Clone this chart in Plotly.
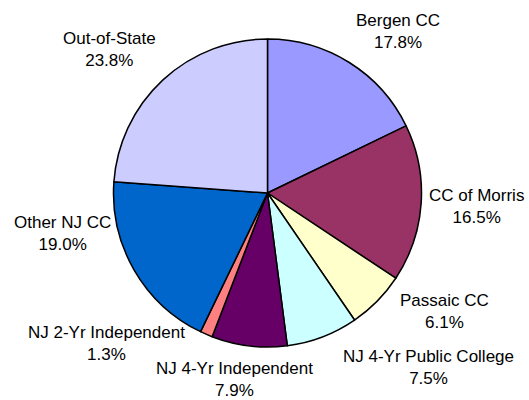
import math
import plotly.graph_objects as go

labels = ["Bergen CC", "CC of Morris", "Passaic CC", "NJ 4-Yr Public College",
          "NJ 4-Yr Independent", "NJ 2-Yr Independent", "Other NJ CC", "Out-of-State"]
values = [17.8, 16.5, 6.1, 7.5, 7.9, 1.3, 19.0, 23.8]
colors = ["#9999FF", "#993366", "#FFFFCC", "#CCFFFF", "#660066", "#FF8080", "#0066CC", "#CCCCFF"]

# ---- layout / style (not data) ----
W, H = 529, 400
cx, cy, r = 267.5, 193, 154
FONT = 17
LINE_H = 22
R_LABEL = 170
# manual label nudges (px) to mimic the original label placement / collision avoidance
nudge = {
    "Bergen CC": (18, 1), "CC of Morris": (-8, 1), "Passaic CC": (24, -16),
    "NJ 4-Yr Public College": (70, -5), "NJ 4-Yr Independent": (-3, -4),
    "NJ 2-Yr Independent": (-62, -26), "Other NJ CC": (-16, -56), "Out-of-State": (-11, -2.5),
}
# approximate Arial advance widths (em)
CW = {" ": .278, "-": .333, ".": .278, "%": .889, "C": .722, "B": .667, "M": .833, "N": .722,
      "J": .5, "Y": .667, "P": .667, "I": .278, "O": .778, "S": .667, "a": .556, "b": .556,
      "c": .5, "d": .556, "e": .556, "f": .278, "g": .556, "h": .556, "i": .222, "l": .222,
      "n": .556, "o": .556, "p": .556, "r": .333, "s": .5, "t": .278, "u": .556}


def text_w(s):
    return sum(CW.get(ch, .556) for ch in s) * FONT


fig = go.Figure(go.Pie(
    labels=labels, values=values, sort=False, direction="clockwise", rotation=0,
    marker=dict(colors=colors, line=dict(color="black", width=1.5)),
    textinfo="none", showlegend=False, hoverinfo="label+value",
    domain=dict(x=[(cx - r) / W, (cx + r) / W], y=[(H - cy - r) / H, (H - cy + r) / H]),
))

total = sum(values)
cum = 0.0
annotations = []
for lab, v in zip(labels, values):
    mid = (cum + v / 2) / total * 2 * math.pi
    cum += v
    dx, dy = math.sin(mid), -math.cos(mid)
    pct = f"{v:.1f}%"
    w = max(text_w(lab), text_w(pct))
    h = 2 * LINE_H
    px = cx + R_LABEL * dx + w / 2 * dx + nudge[lab][0]
    py = cy + R_LABEL * dy + h / 2 * dy + nudge[lab][1]
    annotations.append(dict(
        x=px / W, y=1 - py / H, xref="paper", yref="paper",
        text=f"{lab}<br>{pct}", showarrow=False, xanchor="center", yanchor="middle",
        align="center", font=dict(family="Arial, Liberation Sans", size=FONT, color="black"),
    ))

fig.update_layout(width=W, height=H, margin=dict(l=0, r=0, t=0, b=0),
                  paper_bgcolor="white", plot_bgcolor="white", annotations=annotations)
fig.write_html("out.html", config={"displayModeBar": False},
               post_script="document.body.style.margin='0';document.body.style.overflow='hidden';")
